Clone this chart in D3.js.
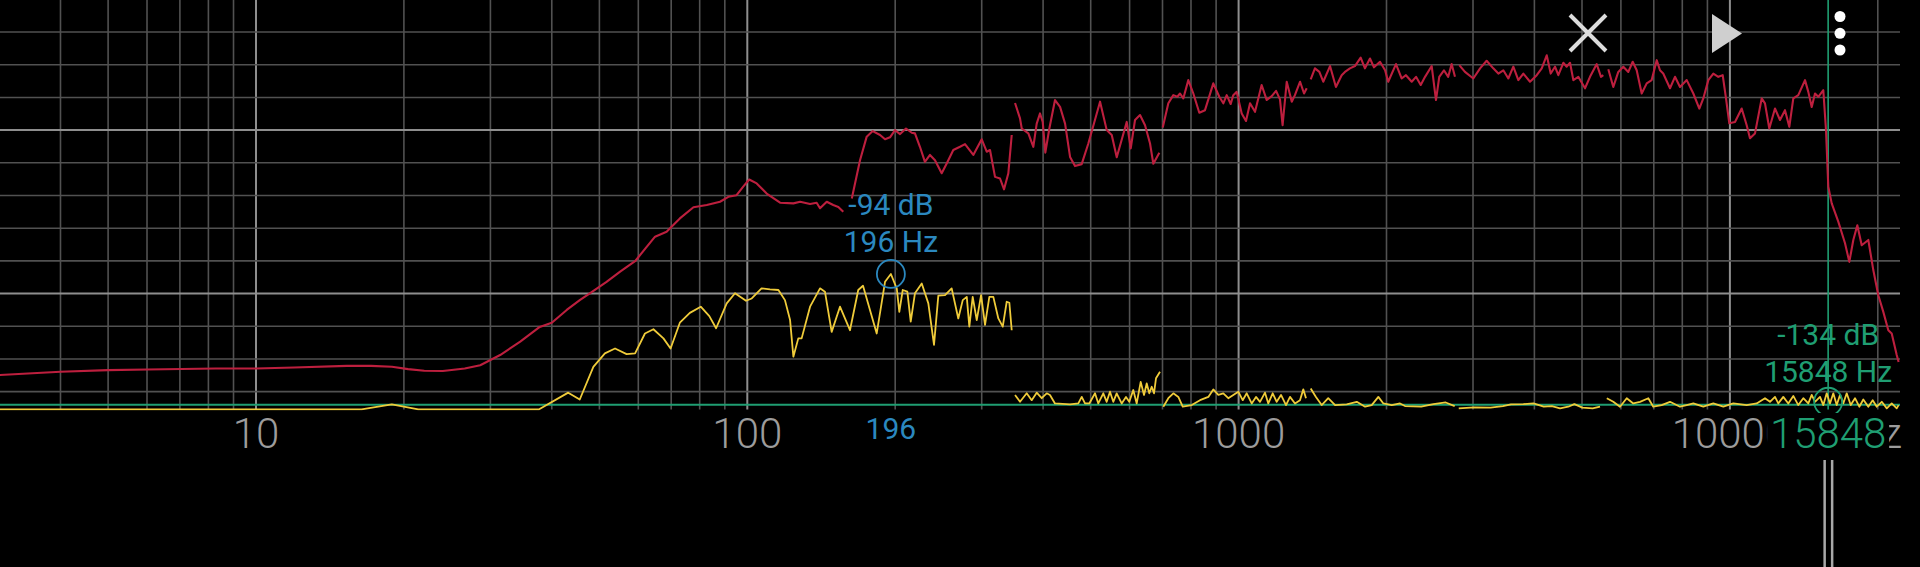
<!DOCTYPE html>
<html><head><meta charset="utf-8">
<script src="https://cdn.jsdelivr.net/npm/d3@7"></script>
<style>html,body{margin:0;padding:0;background:#000;overflow:hidden}svg{display:block}</style>
</head><body>
<svg id="c" width="1920" height="567"></svg>
<script>
// ---------- data ----------
const xTickValues = [10, 100, 1000, 10000];
const xTickLabels = ["10", "100", "1000", "10000"];
const gridDbValues = [-20, -30, -40, -50, -60, -70, -80, -90, -100, -110, -120, -130];
const majorDbValues = [-50, -100];

// Spectrum (red); null = gap between analysis bands
const redFreq = [
  3,4,5,6,8.29,10,11.95,15.31,17.15,18.91,20.4,22.0,24.0,26.6,28.6,31.4,34.5,37.8,40.0,42.9,45.6,47.8,51.7,55.1,59.1,62.4,64.9,68.5,72.9,77.7,82.7,88.0,91.5,95.1,98.1,100.9,104.5,109.5,116.6,124.1,128.1,134.2,138.4,140.6,145.1,149.6,153.2,156.8,
  null,
  163.2,169.6,175.0,180.0,186.3,190.7,195.2,199.8,204.6,210.4,216.1,219.4,224.6,229.9,235.4,241.0,248.7,254.6,262.6,271.0,277.4,288.4,300.0,307.1,311.9,319.3,326.9,333.1,339.9,345.3,
  null,
  350.7,359.0,361.9,373.3,382.1,388.2,394.3,399.3,404.2,411.9,423.0,433.1,443.4,453.9,464.5,479.3,494.5,522.4,539.0,551.8,564.9,591.9,603.2,615.4,630.0,645.0,660.3,670.6,689.7,
  null,
  700.8,719.4,736.5,750.4,759.9,771.7,790.0,808.8,831.8,854.3,888.2,913.5,930.9,945.8,963.6,975.4,991.1,1014.6,1035.3,1055,1080,1114,1141,1168,1192,1214,1229,1253,1283,1302,1334,1359,1376,
  null,
  1402,1430,1460,1487,1535,1578,1621,1646,1685,1725,1772,1808,1851,1886,1940,1987,2016,2091,2147,2191,2251,2297,2348,2396,2472,2522,2561,2618,2671,2714,2757,
  null,
  2813,2889,3004,3101,3198,3299,3378,3458,3540,3624,3710,3798,3919,4044,4140,4238,4318,4406,4475,4581,4654,4727,4801,4914,5071,5191,5357,5466,5525,
  null,
  5656,5790,5927,6068,6212,6341,6461,6614,6771,6931,7096,7206,7317,7552,7731,7915,8168,8425,8665,8828,9038,9252,9471,9668,9819,9972,10242,10568,10819,10988,11248,11607,11787,12028,12353,12646,12946,13210,13460,13779,14219,14441,14673,14902,15134,15493,15690,15859,16114,16620,17152,17501,17832,18170,18548,19130,19583,20048,20524,21010,21348,21855,22050
];
const redDb = [
  -124.9,-123.9,-123.4,-123.2,-122.9,-122.9,-122.6,-122.1,-122.1,-122.4,-123.1,-123.6,-123.7,-122.9,-121.9,-118.8,-114.7,-110.2,-108.9,-105.0,-102.0,-99.9,-96.4,-93.3,-90.1,-85.7,-82.6,-81.1,-77.0,-73.6,-72.9,-71.9,-70.4,-69.9,-67.3,-65.1,-66.3,-69.4,-72.2,-72.4,-71.9,-72.6,-72.2,-73.9,-71.9,-72.9,-73.5,-75.0,
  null,
  -70.9,-59.2,-52.0,-50.3,-51.5,-52.8,-52.2,-50.0,-51.2,-49.5,-50.8,-51.0,-55.1,-59.7,-57.6,-59.2,-63.2,-60.2,-56.1,-55.1,-54.3,-57.6,-52.8,-56.6,-56.1,-64.3,-64.8,-68.1,-63.2,-51.5,
  null,
  -41.7,-46.4,-49.5,-51.0,-55.1,-48.0,-44.9,-47.5,-56.9,-49.5,-40.8,-42.9,-48.0,-58.2,-61.0,-60.4,-54.1,-41.3,-50.0,-51.5,-58.3,-47.5,-55.6,-46.9,-45.4,-48.5,-54.1,-60.3,-56.9,
  null,
  -49.2,-41.8,-39.3,-39.8,-38.8,-40.3,-34.7,-38.8,-44.7,-43.9,-35.7,-39.8,-41.8,-39.3,-42.0,-39.3,-38.3,-44.9,-47.2,-41.8,-44.4,-36.2,-40.8,-39.6,-38.0,-40.6,-48.5,-35.2,-41.3,-39.3,-35.2,-38.8,-37.2,
  null,
  -34.5,-31.1,-32.2,-35.2,-30.4,-36.8,-33.2,-32.2,-31.1,-30.4,-27.8,-31.1,-28.1,-30.8,-29.1,-31.7,-35.2,-29.8,-34.2,-33.2,-35.2,-33.7,-36.2,-33.7,-30.4,-40.8,-33.7,-31.7,-33.7,-29.8,-33.7,
  null,
  -30.1,-32.2,-34.2,-31.1,-28.8,-31.1,-32.7,-31.7,-34.2,-30.6,-34.7,-32.7,-35.2,-33.2,-31.1,-27.1,-32.7,-30.6,-33.2,-29.4,-30.6,-29.4,-34.7,-33.7,-37.2,-33.7,-29.8,-33.7,-33.2,
  null,
  -31.4,-36.8,-32.2,-30.6,-32.2,-29.1,-31.7,-38.8,-35.7,-34.7,-28.6,-31.7,-32.7,-37.2,-33.7,-36.8,-34.7,-38.8,-43.4,-40.3,-34.7,-32.7,-33.7,-33.2,-40.3,-47.9,-47.5,-43.4,-48.5,-52.5,-51.0,-40.3,-41.8,-49.5,-43.4,-46.9,-43.9,-49.0,-40.3,-39.3,-34.7,-38.3,-42.9,-38.8,-39.8,-37.8,-50.0,-67.3,-72.4,-78.0,-84.6,-90.3,-83.6,-79.1,-85.2,-83.6,-92.8,-100.5,-105.6,-111.2,-112.2,-118.8,-120.9
];

// Second trace (yellow)
const yellowFreq = [
  3,16.4,18.9,21.4,37.7,43.2,45.6,48.6,51.3,53.8,56.8,59.1,61.9,64.4,67.5,69.8,72.9,76.4,80.4,83.7,86.4,90.8,94.4,99.4,102.1,106.9,111.2,115.7,119.3,122.2,124.1,127.0,129.0,134.2,140.6,143.9,148.5,154.4,161.8,168.2,172.0,183.4,190.7,196,201.5,203.9,207.2,211.7,215.1,219.4,226.5,233.6,239.9,244.8,252.6,260.6,268.8,274.5,279.7,283.1,287.6,293.1,299.1,304.7,310.9,316.8,324.3,331.1,337.3,341.5,345.3,
  null,
  350.7,359.0,370.4,379.2,388.2,397.4,406.8,413.1,422.9,453.9,471.8,479.4,486.8,496.7,510.2,518.1,530.4,538.9,547.3,555.8,564.7,578.1,589.9,599.1,610.4,620.3,632.0,641.9,650.1,658.0,665.5,672.7,679.0,691.9,
  null,
  702.7,719.4,736.5,753.9,769.6,802.8,834.6,867.7,888.2,909.3,930.8,952.9,975.5,998.6,1019.4,1038.7,1063.3,1085.0,1105.5,1131.7,1149.3,1173.3,1195.5,1219.9,1248.8,1272.4,1302.6,1333.4,1354.2,1371.5,
  null,
  1402,1437,1476,1522,1572,1660,1740,1809,1866,1925,1971,2050,2131,2181,2353,2493,2640,2753,
  null,
  2806,3018,3257,3452,3585,3798,3984,4179,4341,4511,4688,4824,5009,5257,5441,
  null,
  5616,5790,5975,6166,6359,6562,6822,6984,7262,7552,7915,8168,8425,8828,9252,9696,10161,10819,11338,11787,12067,12353,12545,12843,13148,13460,13779,14106,14441,14673,14902,15255,15493,15741,15986,16236,16497,16753,17015,17288,17617,17975,18340,18688,19130,19528,19903,20377,20860,21348,21855,22050
];
const yellowDb = [
  -135.4,-135.4,-133.9,-135.4,-135.4,-130.3,-132.4,-122.4,-118.3,-116.8,-118.5,-118.3,-112.2,-110.9,-113.7,-116.8,-108.9,-105.9,-104.0,-106.9,-110.6,-103.0,-99.9,-102.2,-101.5,-98.4,-98.7,-98.9,-102.0,-108.1,-119.3,-113.7,-113.7,-104.0,-98.4,-99.4,-111.7,-104.0,-111.2,-98.9,-97.6,-112.2,-96.4,-94.0,-98.5,-105.6,-98.9,-99.4,-108.6,-99.9,-96.9,-103.0,-115.7,-100.6,-100.5,-98.4,-107.6,-102.0,-101.0,-110.1,-101.0,-108.1,-100.5,-109.6,-101.0,-101.0,-107.6,-110.1,-102.5,-102.8,-111.2,
  null,
  -131.0,-133.1,-130.5,-132.6,-130.3,-132.0,-130.5,-131.0,-133.6,-133.9,-133.6,-131.6,-133.6,-133.6,-130.5,-133.6,-130.5,-133.1,-130.0,-133.1,-130.5,-133.6,-131.6,-133.1,-129.5,-133.6,-127.0,-131.0,-127.5,-130.5,-128.5,-130.5,-125.9,-123.9,
  null,
  -134.6,-132.0,-130.5,-131.6,-134.6,-134.1,-132.6,-131.6,-129.3,-131.0,-130.5,-132.0,-131.0,-130.0,-132.6,-130.5,-133.6,-131.6,-133.1,-130.3,-133.6,-130.5,-133.1,-131.0,-134.1,-131.6,-133.6,-132.6,-129.3,-132.0,
  null,
  -129.0,-131.6,-134.1,-132.0,-134.1,-133.9,-133.1,-134.6,-134.1,-131.6,-133.6,-134.1,-133.6,-134.4,-134.6,-133.8,-133.3,-134.4,
  null,
  -135.1,-134.8,-134.9,-134.4,-133.9,-133.8,-133.6,-134.6,-134.4,-135.1,-134.6,-133.8,-134.9,-135.1,-134.6,
  null,
  -132.0,-133.1,-134.6,-132.0,-133.6,-133.1,-132.0,-134.6,-134.1,-133.1,-134.6,-134.1,-133.6,-134.6,-133.6,-134.6,-133.6,-134.1,-133.6,-132.0,-133.1,-131.6,-133.6,-131.6,-133.6,-131.3,-134.1,-132.0,-133.6,-131.0,-133.1,-131.6,-134.1,-130.5,-133.6,-130.5,-134.1,-131.0,-133.6,-130.5,-134.1,-132.0,-134.6,-132.4,-134.6,-132.6,-134.6,-133.1,-135.1,-133.6,-135.1,-134.1
];

const blueMarker = { freq: 196, db: -94, dbLabel: "-94 dB", hzLabel: "196 Hz", axisLabel: "196" };
const greenMarker = { freq: 15848, db: -134, dbLabel: "-134 dB", hzLabel: "15848 Hz", axisLabel: "15848" };

// ---------- drawing ----------
const svg = d3.select("#c");
svg.append("rect").attr("width", 1920).attr("height", 567).attr("fill", "#000");

const plotRight = 1900, plotBottom = 409.5;
const x = d3.scaleLog().domain([10, 10000]).range([256, 1729.9]);
const y = d3.scaleLinear().domain([-10.2, -135.3]).range([0, 409]);

svg.append("defs").append("clipPath").attr("id", "plot")
  .append("rect").attr("x", 0).attr("y", 0).attr("width", plotRight).attr("height", plotBottom + 1);

const font = "Roboto, 'Noto Sans', sans-serif";

// grid
const gridFreqs = d3.scaleLog().domain([3, 20000]).ticks();
const g = svg.append("g");
g.selectAll("line.vg").data(gridFreqs).join("line")
  .attr("x1", d => x(d)).attr("x2", d => x(d))
  .attr("y1", 0).attr("y2", plotBottom)
  .attr("stroke", d => xTickValues.includes(d) ? "#8e8e8e" : "#515151")
  .attr("stroke-width", d => xTickValues.includes(d) ? 2 : 1.6);
g.selectAll("line.hg").data(gridDbValues).join("line")
  .attr("x1", 0).attr("x2", plotRight)
  .attr("y1", d => y(d)).attr("y2", d => y(d))
  .attr("stroke", d => majorDbValues.includes(d) ? "#8e8e8e" : "#515151")
  .attr("stroke-width", d => majorDbValues.includes(d) ? 2 : 1.6);

// marker cross lines (green)
svg.append("line").attr("x1", 0).attr("x2", plotRight)
  .attr("y1", y(greenMarker.db)).attr("y2", y(greenMarker.db))
  .attr("stroke", "#1f9e72").attr("stroke-width", 2);
svg.append("line").attr("x1", x(greenMarker.freq)).attr("x2", x(greenMarker.freq))
  .attr("y1", 0).attr("y2", plotBottom)
  .attr("stroke", "#1f9e72").attr("stroke-width", 1.6);

// traces
function toPts(fr, db) { return fr.map((f, i) => [f, db[i]]); }
const line = d3.line()
  .defined(d => d[0] != null && d[1] != null)
  .x(d => x(d[0])).y(d => y(d[1]));
const traces = svg.append("g").attr("clip-path", "url(#plot)");
traces.append("path").attr("d", line(toPts(redFreq, redDb)))
  .attr("fill", "none").attr("stroke", "#bd1f3e").attr("stroke-width", 2.1)
  .attr("stroke-linejoin", "round");
traces.append("path").attr("d", line(toPts(yellowFreq, yellowDb)))
  .attr("fill", "none").attr("stroke", "#efcb3a").attr("stroke-width", 1.8)
  .attr("stroke-linejoin", "round");

// x axis labels
svg.append("g").selectAll("text").data(xTickValues).join("text")
  .attr("x", d => x(d)).attr("y", 448)
  .attr("text-anchor", "middle")
  .attr("font-family", font).attr("font-weight", 300).attr("font-size", 42)
  .attr("fill", "#9c9c9c")
  .text((d, i) => xTickLabels[i]);
svg.append("text").attr("x", 1902).attr("y", 448).attr("text-anchor", "end")
  .attr("font-family", font).attr("font-weight", 300).attr("font-size", 42)
  .attr("fill", "#9c9c9c").text("Hz");

// blue marker
const bx = x(blueMarker.freq), by = y(blueMarker.db);
svg.append("circle").attr("cx", bx).attr("cy", by).attr("r", 14)
  .attr("fill", "none").attr("stroke", "#2b88bf").attr("stroke-width", 1.8);
svg.append("text").attr("x", bx).attr("y", 215).attr("text-anchor", "middle")
  .attr("font-family", font).attr("font-size", 30).attr("fill", "#2b88bf").text(blueMarker.dbLabel);
svg.append("text").attr("x", bx).attr("y", 252).attr("text-anchor", "middle")
  .attr("font-family", font).attr("font-size", 30).attr("fill", "#2b88bf").text(blueMarker.hzLabel);
svg.append("text").attr("x", bx).attr("y", 439).attr("text-anchor", "middle")
  .attr("font-family", font).attr("font-size", 30).attr("fill", "#2b88bf").text(blueMarker.axisLabel);

// green marker
const gx = x(greenMarker.freq), gy = y(greenMarker.db);
svg.append("circle").attr("cx", gx).attr("cy", gy - 3).attr("r", 14)
  .attr("fill", "none").attr("stroke", "#1f9e72").attr("stroke-width", 1.8);
svg.append("text").attr("x", gx).attr("y", 345).attr("text-anchor", "middle")
  .attr("font-family", font).attr("font-size", 30).attr("fill", "#1f9e72").text(greenMarker.dbLabel);
svg.append("text").attr("x", gx).attr("y", 382).attr("text-anchor", "middle")
  .attr("font-family", font).attr("font-size", 30).attr("fill", "#1f9e72").text(greenMarker.hzLabel);
svg.append("rect").attr("x", gx - 61).attr("y", 413).attr("width", 122).attr("height", 44).attr("fill", "#000");
svg.append("text").attr("x", gx).attr("y", 448).attr("text-anchor", "middle")
  .attr("font-family", font).attr("font-weight", 300).attr("font-size", 42)
  .attr("fill", "#1f9e72").text(greenMarker.axisLabel);

// slider handle below the axis
[-3.5, 4].forEach(o => svg.append("line")
  .attr("x1", gx + o).attr("x2", gx + o).attr("y1", 460).attr("y2", 567)
  .attr("stroke", "#a8a8a8").attr("stroke-width", 2.5));

// top-right controls
const ic = svg.append("g");
ic.append("path").attr("d", "M1570,15L1606,51M1606,15L1570,51")
  .attr("stroke", "#dcdcdc").attr("stroke-width", 4).attr("fill", "none");
ic.append("path").attr("d", "M1712,14L1742,33.5L1712,53Z").attr("fill", "#cfcfcf");
[16.5, 33.3, 50].forEach(cy => ic.append("circle").attr("cx", 1840).attr("cy", cy).attr("r", 5.5).attr("fill", "#fff"));
</script>
</body></html>
